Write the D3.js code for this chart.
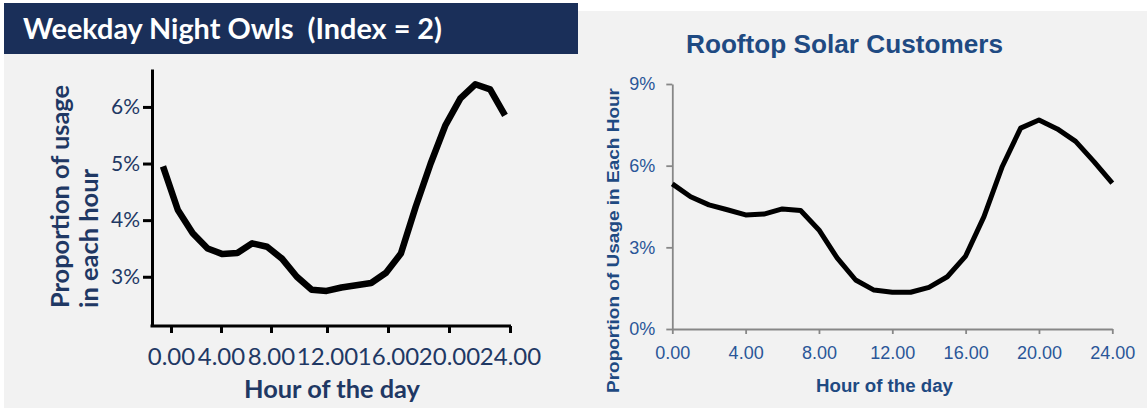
<!DOCTYPE html>
<html>
<head>
<meta charset="utf-8">
<script src="https://cdn.jsdelivr.net/npm/d3@7"></script>
<style>
  html, body { margin: 0; padding: 0; background: #ffffff; }
  svg { display: block; }
  text { white-space: pre; }
</style>
</head>
<body>
<svg id="chart" width="1147" height="408"></svg>
<script>
// ---- Weekday Night Owls: hourly share of daily usage (%) ----
const owlHours = [0, 1, 2, 3, 4, 5, 6, 7, 8, 9, 10, 11, 12, 13, 14, 15, 16, 17, 18, 19, 20, 21, 22, 23];
const owlShare = [4.95, 4.18, 3.77, 3.50, 3.40, 3.42, 3.59, 3.53, 3.32, 3.00, 2.77, 2.75,
                  2.81, 2.85, 2.89, 3.07, 3.41, 4.24, 5.00, 5.68, 6.15, 6.40, 6.31, 5.85];
const owlYTicks = [3, 4, 5, 6];
const owlXTicks = [0, 4, 8, 12, 16, 20, 24];

// ---- Rooftop Solar Customers: hourly share of daily usage (%) ----
const solarHours = [0, 1, 2, 3, 4, 5, 6, 7, 8, 9, 10, 11, 12, 13, 14, 15, 16, 17, 18, 19, 20, 21, 22, 23, 24];
const solarShare = [5.33, 4.86, 4.56, 4.38, 4.19, 4.22, 4.41, 4.35, 3.64, 2.60, 1.80, 1.43, 1.35,
                    1.35, 1.53, 1.92, 2.68, 4.13, 5.97, 7.38, 7.68, 7.35, 6.89, 6.15, 5.36];
const solarYTicks = [0, 3, 6, 9];
const solarXTicks = [0, 4, 8, 12, 16, 20, 24];

const owlTitle = "Weekday Night Owls  (Index = 2)";
const owlYTitle = ["Proportion of usage", "in each hour"];
const solarTitle = "Rooftop Solar Customers";
const solarYTitle = "Proportion of Usage in Each Hour";
const xTitle = "Hour of the day";

const svg = d3.select("#chart");

// panel backgrounds
svg.append("rect").attr("x", 4).attr("y", 3).attr("width", 574).attr("height", 405).attr("fill", "#f2f2f2");
svg.append("rect").attr("x", 578).attr("y", 11).attr("width", 569).attr("height", 397).attr("fill", "#f2f2f2");

// ================= left panel =================
const NAVY = "#1f3864";
const calib = "Lato, 'Open Sans', sans-serif";

svg.append("rect").attr("x", 4).attr("y", 3).attr("width", 574).attr("height", 51).attr("fill", "#1a2f59");
svg.append("text")
  .attr("x", 23).attr("y", 39)
  .attr("xml:space", "preserve")
  .attr("fill", "#ffffff")
  .attr("font-family", calib).attr("font-weight", 700).attr("font-size", 28)
  .attr("textLength", 419).attr("lengthAdjust", "spacingAndGlyphs")
  .text(owlTitle);

const L = { x0: 152, x1: 511, y0: 69, y1: 326 };
const yOwl = d3.scaleLinear().domain([2.13, 6.67]).range([L.y1, L.y0]);
// axis hours are spaced more tightly before 08:00
const xOwlAxis = d3.scaleLinear().domain([0, 8, 12, 24]).range([171, 271, 327, 510]);
const xOwlLine = d3.scaleLinear().domain([owlHours[0], owlHours[owlHours.length - 1]]).range([163, 505]);

const gOwlY = svg.append("g")
  .attr("transform", `translate(${L.x0},0)`)
  .call(d3.axisLeft(yOwl).tickValues(owlYTicks).tickFormat(d => d + "%")
        .tickSize(9).tickSizeOuter(0).tickPadding(3));
gOwlY.select(".domain").attr("stroke", "#000").attr("stroke-width", 3);
gOwlY.selectAll(".tick line").attr("stroke", "#000").attr("stroke-width", 3);
gOwlY.selectAll(".tick text")
  .attr("fill", NAVY).attr("font-family", calib).attr("font-size", 21);

const gOwlX = svg.append("g")
  .attr("transform", `translate(0,${L.y1})`)
  .call(d3.axisBottom(xOwlAxis).tickValues(owlXTicks).tickFormat(d3.format(".2f"))
        .tickSize(7).tickSizeOuter(0));
gOwlX.select(".domain").remove();
gOwlX.append("line")
  .attr("x1", L.x0 - 1.5).attr("x2", L.x1).attr("y1", 0).attr("y2", 0)
  .attr("stroke", "#000").attr("stroke-width", 3);
gOwlX.selectAll(".tick line").attr("stroke", "#000").attr("stroke-width", 3);
gOwlX.selectAll(".tick text")
  .attr("dy", null).attr("y", 39)
  .attr("fill", NAVY).attr("font-family", calib).attr("font-size", 24);

svg.append("path")
  .datum(owlHours.map((h, i) => [h, owlShare[i]]))
  .attr("fill", "none").attr("stroke", "#000").attr("stroke-width", 6.5)
  .attr("stroke-linejoin", "round")
  .attr("d", d3.line().x(d => xOwlLine(d[0])).y(d => yOwl(d[1])));

[[69, 223], [98, 139]].forEach(([bx, len], i) => {
  svg.append("text")
    .attr("transform", `translate(${bx},308) rotate(-90)`)
    .attr("fill", NAVY).attr("font-family", calib).attr("font-weight", 700).attr("font-size", 24)
    .attr("textLength", len).attr("lengthAdjust", "spacingAndGlyphs")
    .text(owlYTitle[i]);
});

svg.append("text")
  .attr("x", 332).attr("y", 398).attr("text-anchor", "middle")
  .attr("fill", NAVY).attr("font-family", calib).attr("font-weight", 700).attr("font-size", 24)
  .attr("textLength", 176).attr("lengthAdjust", "spacingAndGlyphs")
  .text(xTitle);

// ================= right panel =================
const BLUE = "#1f4a82";
const TICKBLUE = "#2a5698";
const arial = "'Liberation Sans', Arial, sans-serif";
const GRAY = "#878787";

const R = { x0: 672.3, x1: 1112.3, y0: 84, y1: 329 };
const ySolar = d3.scaleLinear().domain([0, 9]).range([R.y1, R.y0]);
const xSolar = d3.scaleLinear().domain([0, 24]).range([R.x0, R.x1]);

svg.append("text")
  .attr("x", 844.5).attr("y", 53).attr("text-anchor", "middle")
  .attr("fill", BLUE).attr("font-family", arial).attr("font-weight", 700).attr("font-size", 26)
  .attr("textLength", 317).attr("lengthAdjust", "spacingAndGlyphs")
  .text(solarTitle);

const gSolarY = svg.append("g")
  .attr("transform", `translate(${R.x0},0)`)
  .call(d3.axisLeft(ySolar).tickValues(solarYTicks).tickFormat(d => d + "%")
        .tickSize(6).tickSizeOuter(0).tickPadding(11));
gSolarY.select(".domain").attr("stroke", GRAY).attr("stroke-width", 1.8);
gSolarY.selectAll(".tick line").attr("stroke", GRAY).attr("stroke-width", 1.8);
gSolarY.selectAll(".tick text")
  .attr("fill", TICKBLUE).attr("font-family", arial).attr("font-size", 18);

const gSolarX = svg.append("g")
  .attr("transform", `translate(0,${R.y1})`)
  .call(d3.axisBottom(xSolar).tickValues(solarXTicks).tickFormat(d3.format(".2f"))
        .tickSize(5).tickSizeOuter(0));
gSolarX.select(".domain").attr("stroke", GRAY).attr("stroke-width", 1.8);
gSolarX.selectAll(".tick line").attr("stroke", GRAY).attr("stroke-width", 1.8);
gSolarX.selectAll(".tick text")
  .attr("dy", null).attr("y", 30)
  .attr("fill", TICKBLUE).attr("font-family", arial).attr("font-size", 18);

svg.append("path")
  .datum(solarHours.map((h, i) => [h, solarShare[i]]))
  .attr("fill", "none").attr("stroke", "#000").attr("stroke-width", 5)
  .attr("stroke-linejoin", "round")
  .attr("d", d3.line().x(d => xSolar(d[0])).y(d => ySolar(d[1])));

svg.append("text")
  .attr("transform", "translate(619,393) rotate(-90)")
  .attr("fill", BLUE).attr("font-family", arial).attr("font-weight", 700).attr("font-size", 17)
  .attr("textLength", 305).attr("lengthAdjust", "spacingAndGlyphs")
  .text(solarYTitle);

svg.append("text")
  .attr("x", 884.5).attr("y", 392).attr("text-anchor", "middle")
  .attr("fill", BLUE).attr("font-family", arial).attr("font-weight", 700).attr("font-size", 18)
  .attr("textLength", 137).attr("lengthAdjust", "spacingAndGlyphs")
  .text(xTitle);
</script>
</body>
</html>
